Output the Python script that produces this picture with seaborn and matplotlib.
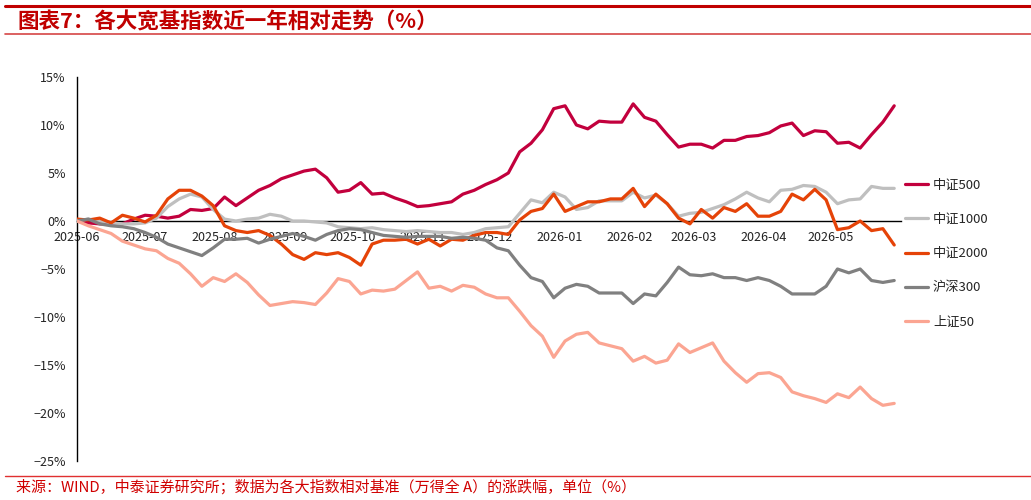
import matplotlib
matplotlib.use("Agg")
import matplotlib.pyplot as plt
import pandas as pd
import seaborn as sns

# 各指数相对万得全A的累计涨跌幅（%），约每5个自然日取一个点
dates = pd.date_range("2025-06-01", "2026-05-29", periods=73)

zz500 = [0.0, -0.2, -0.3, -0.3, -0.3, 0.2, 0.6, 0.5, 0.3, 0.5, 1.2, 1.1, 1.3,
         2.5, 1.6, 2.4, 3.2, 3.7, 4.4, 4.8, 5.2, 5.4, 4.5, 3.0, 3.2, 4.0, 2.8,
         2.9, 2.4, 2.0, 1.5, 1.6, 1.8, 2.0, 2.8, 3.2, 3.8, 4.3, 5.0, 7.2, 8.1,
         9.5, 11.7, 12.0, 10.0, 9.6, 10.4, 10.3, 10.3, 12.2, 10.8, 10.4, 9.0,
         7.7, 8.0, 8.0, 7.6, 8.4, 8.4, 8.8, 8.9, 9.2, 9.9, 10.2, 8.9, 9.4, 9.3,
         8.1, 8.2, 7.6, 9.0, 10.3, 12.0]

zz1000 = [0.0, 0.2, 0.0, -0.2, -0.3, -0.3, -0.2, 0.3, 1.5, 2.3, 2.8, 2.5, 1.2,
          0.2, 0.0, 0.2, 0.3, 0.7, 0.5, 0.0, 0.0, -0.1, -0.2, -0.6, -0.7, -0.8,
          -0.7, -0.9, -1.0, -1.1, -1.0, -1.1, -1.2, -1.2, -1.4, -1.2, -0.8,
          -0.7, -0.6, 0.8, 2.2, 1.9, 3.0, 2.5, 1.2, 1.4, 2.1, 2.1, 2.1, 3.0,
          2.4, 2.7, 1.8, 0.5, 0.8, 0.9, 1.3, 1.7, 2.3, 3.0, 2.4, 2.0, 3.2, 3.3,
          3.7, 3.6, 3.0, 1.8, 2.2, 2.3, 3.6, 3.4, 3.4]

zz2000 = [0.2, 0.1, 0.3, -0.2, 0.6, 0.3, -0.1, 0.6, 2.3, 3.2, 3.2, 2.6, 1.6,
          -0.5, -1.0, -1.2, -1.0, -1.5, -2.4, -3.5, -4.0, -3.3, -3.5, -3.3,
          -3.8, -4.6, -2.4, -2.0, -2.0, -1.9, -2.4, -1.9, -2.6, -1.9, -2.0,
          -1.5, -1.2, -1.2, -1.4, 0.1, 1.0, 1.3, 2.8, 1.0, 1.5, 2.0, 2.0, 2.3,
          2.3, 3.4, 1.5, 2.8, 1.8, 0.3, -0.3, 1.2, 0.3, 1.4, 1.0, 1.8, 0.5, 0.5,
          1.0, 2.8, 2.2, 3.3, 2.2, -0.9, -0.7, 0.0, -1.0, -0.8, -2.5]

hs300 = [0.0, 0.2, -0.3, -0.5, -0.6, -0.8, -1.2, -1.7, -2.4, -2.8, -3.2, -3.6,
         -2.8, -1.9, -1.9, -1.8, -2.3, -1.9, -1.6, -1.3, -1.6, -2.0, -1.4,
         -1.0, -0.8, -0.9, -1.2, -1.5, -1.6, -1.7, -1.6, -1.6, -1.6, -1.8,
         -1.7, -1.8, -2.0, -2.8, -3.1, -4.6, -5.9, -6.3, -8.0, -7.0, -6.6,
         -6.8, -7.5, -7.5, -7.5, -8.6, -7.6, -7.8, -6.4, -4.8, -5.6, -5.7,
         -5.5, -5.9, -5.9, -6.2, -5.9, -6.2, -6.8, -7.6, -7.6, -7.6, -6.8,
         -5.0, -5.4, -5.0, -6.2, -6.4, -6.2]

sz50 = [0.0, -0.5, -0.9, -1.3, -2.1, -2.5, -2.9, -3.1, -3.9, -4.4, -5.5, -6.8,
        -5.9, -6.3, -5.5, -6.4, -7.7, -8.8, -8.6, -8.4, -8.5, -8.7, -7.5,
        -6.0, -6.3, -7.6, -7.2, -7.3, -7.1, -6.2, -5.3, -7.0, -6.8, -7.3,
        -6.7, -6.9, -7.6, -8.0, -8.0, -9.4, -10.9, -12.0, -14.2, -12.5,
        -11.8, -11.6, -12.7, -13.0, -13.3, -14.6, -14.1, -14.8, -14.5, -12.8,
        -13.7, -13.2, -12.7, -14.6, -15.8, -16.8, -15.9, -15.8, -16.3, -17.8,
        -18.2, -18.5, -18.9, -18.0, -18.4, -17.3, -18.5, -19.2, -19.0]

names = ["中证500", "中证1000", "中证2000", "沪深300", "上证50"]
colors = ["#C2003D", "#BFBFBF", "#E54308", "#808080", "#FBA592"]
y_ticks = [15, 10, 5, 0, -5, -10, -15, -20, -25]

series = [zz500, zz1000, zz2000, hs300, sz50]
df = pd.concat([pd.DataFrame({"date": dates, "value": v, "指数": n})
                for n, v in zip(names, series)], ignore_index=True)

sns.set_style("white")
plt.rcParams["font.family"] = ["Noto Sans CJK SC", "DejaVu Sans"]
plt.rcParams["axes.unicode_minus"] = True

fig = plt.figure(figsize=(10.31, 5.0), dpi=100)
ax = fig.add_axes([0.0747, 0.078, 0.7992, 0.768])

sns.lineplot(data=df, x="date", y="value", hue="指数", hue_order=names,
             palette=colors, linewidth=2.3, ax=ax, zorder=3)

ax.set_xlim(pd.Timestamp("2025-06-01"), pd.Timestamp("2026-06-01"))
ax.set_ylim(-25, 15)
ax.set_xlabel("")
ax.set_ylabel("")

months = pd.date_range("2025-06-01", "2026-06-01", freq="MS")
ax.set_xticks(months)
ax.set_xticklabels([d.strftime("%Y-%m") for d in months[:-1]] + [""])
ax.set_yticks(y_ticks)
ax.set_yticklabels([f"{t}%".replace("-", "\u2212") for t in y_ticks])

for s in ["top", "right"]:
    ax.spines[s].set_visible(False)
ax.spines["bottom"].set_position(("data", 0))
for s in ["left", "bottom"]:
    ax.spines[s].set_color("black")
    ax.spines[s].set_linewidth(1.0)
ax.tick_params(axis="both", direction="in", length=4, width=1,
               colors="black", labelsize=9, labelcolor="#222222")
ax.tick_params(axis="x", pad=7)
ax.tick_params(axis="y", pad=8)
ax.grid(False)

ax.legend(loc="upper left", bbox_to_anchor=(0.878, 0.642),
          bbox_transform=fig.transFigure, frameon=False, fontsize=9.5,
          handlelength=1.7, handletextpad=0.4, labelspacing=1.6,
          borderpad=0, borderaxespad=0)

# 标题、分隔线和来源
fig.add_artist(plt.Line2D([0.005, 1.0], [0.989, 0.989], color="#C00000", lw=2.2))
fig.add_artist(plt.Line2D([0.005, 1.0], [0.932, 0.932], color="#D64545", lw=1.2))
fig.text(0.017, 0.956, "图表7：各大宽基指数近一年相对走势（%）", color="#C00000",
         fontsize=15.5, fontweight="bold", style="italic", va="center", ha="left")
fig.add_artist(plt.Line2D([0.005, 1.0], [0.048, 0.048], color="#E03030", lw=1.0))
fig.text(0.016, 0.026, "来源：WIND，中泰证券研究所；数据为各大指数相对基准（万得全 A）的涨跌幅，单位（%）",
         color="#D00000", fontsize=10.8, va="center", ha="left")

fig.savefig("out.png", dpi=100)
